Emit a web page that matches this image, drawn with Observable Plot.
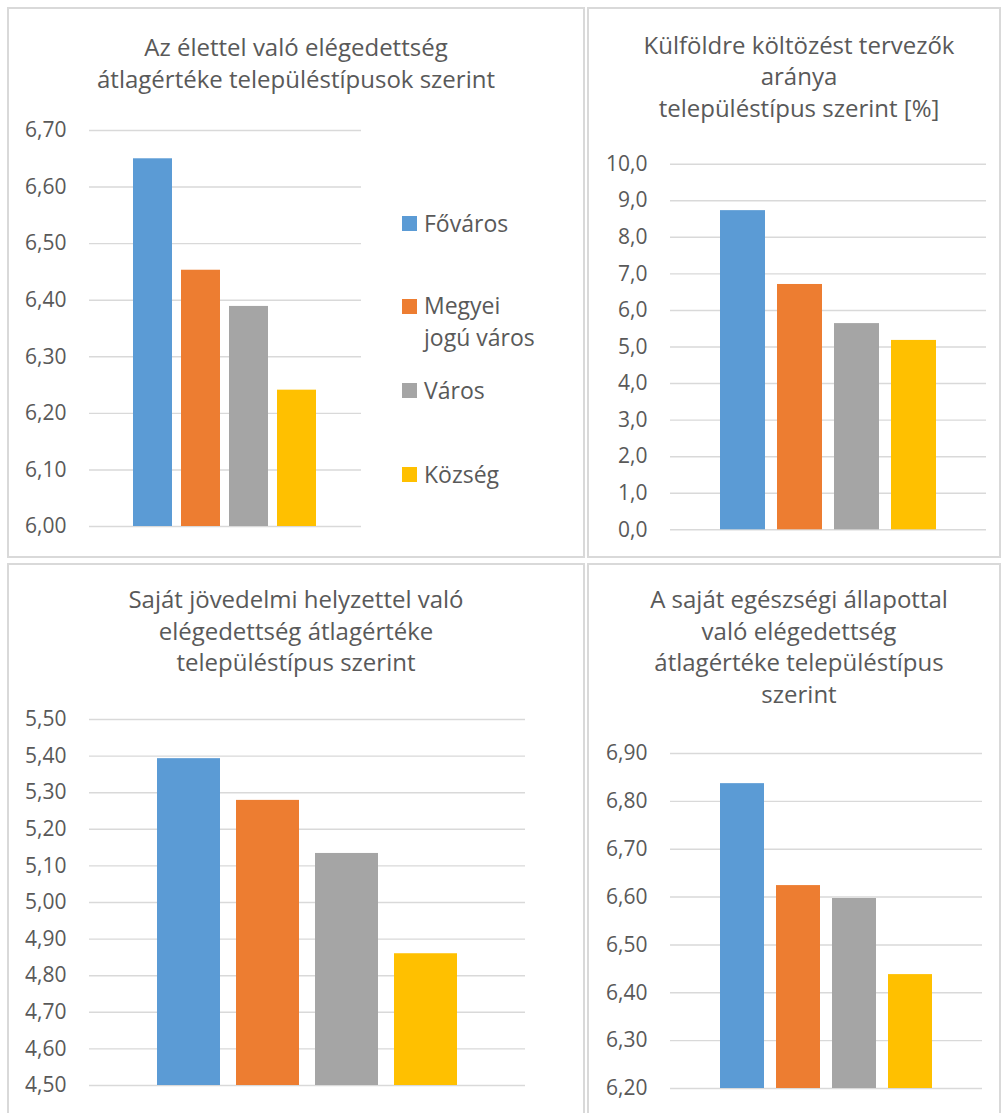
<!DOCTYPE html>
<html><head><meta charset="utf-8">
<script src="https://cdn.jsdelivr.net/npm/d3@7"></script>
<script src="https://cdn.jsdelivr.net/npm/@observablehq/plot@0.6"></script>
<style>
body{margin:0;background:#fff;}
#wrap{position:relative;width:1001px;height:1113px;overflow:hidden;font-family:"Open Sans",sans-serif;color:#595959;background:#fff;}
.panel{position:absolute;border:2px solid #d9d9d9;box-sizing:border-box;}
.title{position:absolute;text-align:center;font-size:24px;line-height:31.5px;white-space:nowrap;}
.chart{position:absolute;}
.legend{position:absolute;font-size:23px;line-height:31.7px;}
.legend .sw{position:absolute;left:0;width:15px;height:15px;top:8.5px;}
.legend .lb{position:absolute;left:22px;top:0;white-space:pre;}
</style></head><body><div id="wrap"></div>
<script>
const categories = ["Főváros", "Megyei jogú város", "Város", "Község"];
const colors = ["#5b9bd5", "#ed7d31", "#a5a5a5", "#ffc000"];

const lifeTitle = ["Az élettel való elégedettség", "átlagértéke településtípusok szerint"];
const lifeValues = [6.65, 6.453, 6.389, 6.241];
const lifeTicks = [6.0, 6.1, 6.2, 6.3, 6.4, 6.5, 6.6, 6.7];

const abroadTitle = ["Külföldre költözést tervezők", "aránya", "településtípus szerint [%]"];
const abroadValues = [8.73, 6.71, 5.64, 5.18];
const abroadTicks = [0, 1, 2, 3, 4, 5, 6, 7, 8, 9, 10];

const incomeTitle = ["Saját jövedelmi helyzettel való", "elégedettség átlagértéke", "településtípus szerint"];
const incomeValues = [5.393, 5.279, 5.134, 4.86];
const incomeTicks = [4.5, 4.6, 4.7, 4.8, 4.9, 5.0, 5.1, 5.2, 5.3, 5.4, 5.5];

const healthTitle = ["A saját egészségi állapottal", "való elégedettség", "átlagértéke településtípus", "szerint"];
const healthValues = [6.837, 6.624, 6.597, 6.438];
const healthTicks = [6.2, 6.3, 6.4, 6.5, 6.6, 6.7, 6.8, 6.9];

const wrap = document.getElementById("wrap");

function chart({values, ticks, digits, width, height, mt, mr, mb, ml, pi, po}) {
  const data = categories.map((c, i) => ({cat: c, value: values[i]}));
  const lo = ticks[0], hi = ticks[ticks.length - 1];
  return Plot.plot({
    width, height,
    marginTop: mt, marginRight: mr, marginBottom: mb, marginLeft: ml,
    style: {fontFamily: "Open Sans, sans-serif", fontSize: "21px", color: "#595959", background: "transparent", overflow: "visible"},
    x: {domain: categories, paddingInner: pi, paddingOuter: po, axis: null},
    y: {domain: [lo, hi], ticks, tickFormat: d => d.toFixed(digits).replace(".", ","), tickSize: 0, tickPadding: 23, label: null},
    color: {domain: categories, range: colors},
    marks: [
      Plot.ruleY(ticks, {stroke: "#d9d9d9", strokeWidth: 1.4}),
      Plot.barY(data, {x: "cat", y1: lo, y2: "value", fill: "cat"})
    ]
  });
}

function panel(left, top, w, h) {
  const d = document.createElement("div");
  d.className = "panel";
  Object.assign(d.style, {left: left + "px", top: top + "px", width: w + "px", height: h + "px"});
  wrap.appendChild(d);
}
function title(lines, left, top, w) {
  const d = document.createElement("div");
  d.className = "title";
  Object.assign(d.style, {left: left + "px", top: top + "px", width: w + "px"});
  lines.forEach((l, i) => { if (i) d.appendChild(document.createElement("br")); d.appendChild(document.createTextNode(l)); });
  wrap.appendChild(d);
}
function place(svg, left, top) {
  const d = document.createElement("div");
  d.className = "chart";
  Object.assign(d.style, {left: left + "px", top: top + "px"});
  d.appendChild(svg);
  wrap.appendChild(d);
}

panel(7, 7, 578, 551);
panel(587, 7, 414, 551);
panel(7, 563, 578, 560);
panel(587, 563, 414, 560);

place(chart({values: lifeValues, ticks: lifeTicks, digits: 2, width: 578, height: 550, mt: 123, mr: 224, mb: 31, ml: 82, pi: 0.184, po: 0.868}), 7, 7);
place(chart({values: abroadValues, ticks: abroadTicks, digits: 1, width: 412, height: 550, mt: 156.7, mr: 13, mb: 27.7, ml: 83, pi: 0.215, po: 0.865}), 587, 7);
place(chart({values: incomeValues, ticks: incomeTicks, digits: 2, width: 578, height: 550, mt: 156, mr: 60, mb: 28, ml: 82, pi: 0.206, po: 0.852}), 7, 563);
place(chart({values: healthValues, ticks: healthTicks, digits: 2, width: 412, height: 550, mt: 190, mr: 17, mb: 25, ml: 83, pi: 0.21, po: 0.842}), 587, 563);

title(lifeTitle, 7, 31, 578);
title(abroadTitle, 599, 28.5, 400);
title(incomeTitle, 7, 583, 578);
title(healthTitle, 599, 583, 400);

// legend for the first panel
const legendTops = [207.5, 290.2, 374.5, 458.9];
categories.forEach((c, i) => {
  const d = document.createElement("div");
  d.className = "legend";
  d.style.left = "402px";
  d.style.top = legendTops[i] + "px";
  const sw = document.createElement("div");
  sw.className = "sw";
  sw.style.background = colors[i];
  const lb = document.createElement("div");
  lb.className = "lb";
  lb.textContent = c.length > 10 ? c.replace(" ", "\n") : c;
  d.appendChild(sw); d.appendChild(lb);
  wrap.appendChild(d);
});
</script></body></html>
